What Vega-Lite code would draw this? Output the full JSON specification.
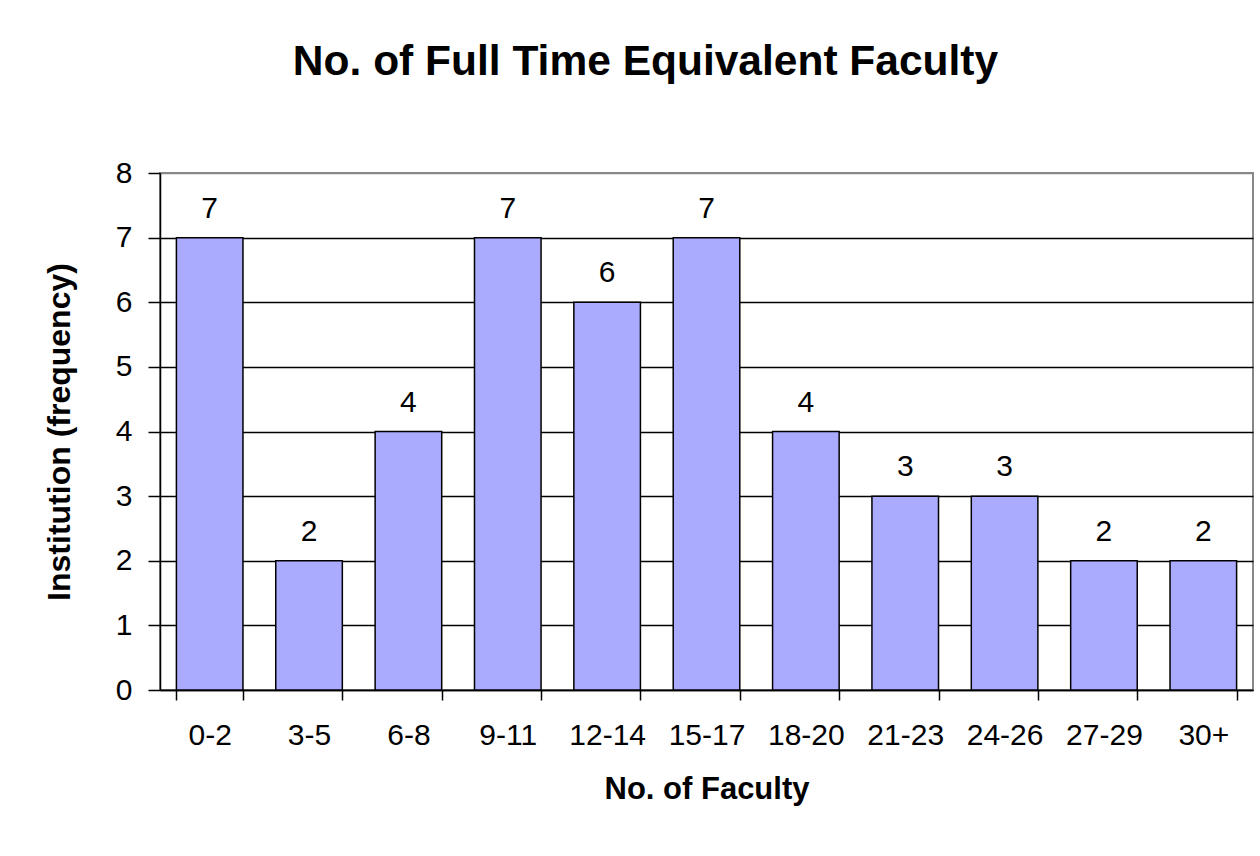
{
  "$schema": "https://vega.github.io/schema/vega-lite/v6.json",
  "width": 1093,
  "height": 517,
  "autosize": {"type": "none"},
  "padding": {"left": 160, "top": 173, "right": 7, "bottom": 166},
  "background": "white",
  "title": {
    "text": "No. of Full Time Equivalent Faculty",
    "font": "Liberation Sans",
    "fontSize": 42.5,
    "fontWeight": "bold",
    "color": "black",
    "anchor": "middle",
    "baseline": "alphabetic",
    "offset": 41,
    "dx": -61
  },
  "data": {
    "values": [
      {"bin": "0-2", "count": 7},
      {"bin": "3-5", "count": 2},
      {"bin": "6-8", "count": 4},
      {"bin": "9-11", "count": 7},
      {"bin": "12-14", "count": 6},
      {"bin": "15-17", "count": 7},
      {"bin": "18-20", "count": 4},
      {"bin": "21-23", "count": 3},
      {"bin": "24-26", "count": 3},
      {"bin": "27-29", "count": 2},
      {"bin": "30+", "count": 2}
    ]
  },
  "encoding": {
    "x": {
      "field": "bin",
      "type": "nominal",
      "sort": null,
      "scale": {"paddingInner": 0.33, "paddingOuter": 0.165},
      "axis": {
        "title": "No. of Faculty",
        "titleFont": "Liberation Sans",
        "titleFontSize": 31,
        "titleFontWeight": "bold",
        "titleColor": "black",
        "titlePadding": 24,
        "labelFont": "Liberation Sans",
        "labelFontSize": 30,
        "labelColor": "black",
        "labelAngle": 0,
        "labelPadding": 20,
        "tickBand": "extent",
        "tickSize": 10,
        "tickColor": "black",
        "tickWidth": 1.5,
        "domainColor": "black",
        "domainWidth": 1.5,
        "grid": false
      }
    },
    "y": {
      "field": "count",
      "type": "quantitative",
      "scale": {"domain": [0, 8], "nice": false},
      "axis": {
        "title": "Institution (frequency)",
        "titleFont": "Liberation Sans",
        "titleFontSize": 32,
        "titleFontWeight": "bold",
        "titleColor": "black",
        "titlePadding": 39,
        "values": [0, 1, 2, 3, 4, 5, 6, 7, 8],
        "labelFont": "Liberation Sans",
        "labelFontSize": 30,
        "labelColor": "black",
        "labelPadding": 16,
        "tickSize": 12,
        "tickColor": "black",
        "tickWidth": 1.5,
        "domainColor": "black",
        "domainWidth": 1.5,
        "grid": true,
        "gridColor": {"condition": {"test": "datum.value == 8", "value": "#888888"}, "value": "black"},
        "gridWidth": 1.5,
        "gridOpacity": 1
      }
    }
  },
  "layer": [
    {
      "mark": {"type": "bar", "fill": "#AAAAFF", "stroke": "black", "strokeWidth": 1.5}
    },
    {
      "mark": {
        "type": "text",
        "font": "Liberation Sans",
        "fontSize": 30,
        "color": "black",
        "baseline": "alphabetic",
        "dy": -20
      },
      "encoding": {"text": {"field": "count", "type": "quantitative"}}
    }
  ],
  "config": {
    "view": {"stroke": "#888888", "strokeWidth": 2}
  }
}
